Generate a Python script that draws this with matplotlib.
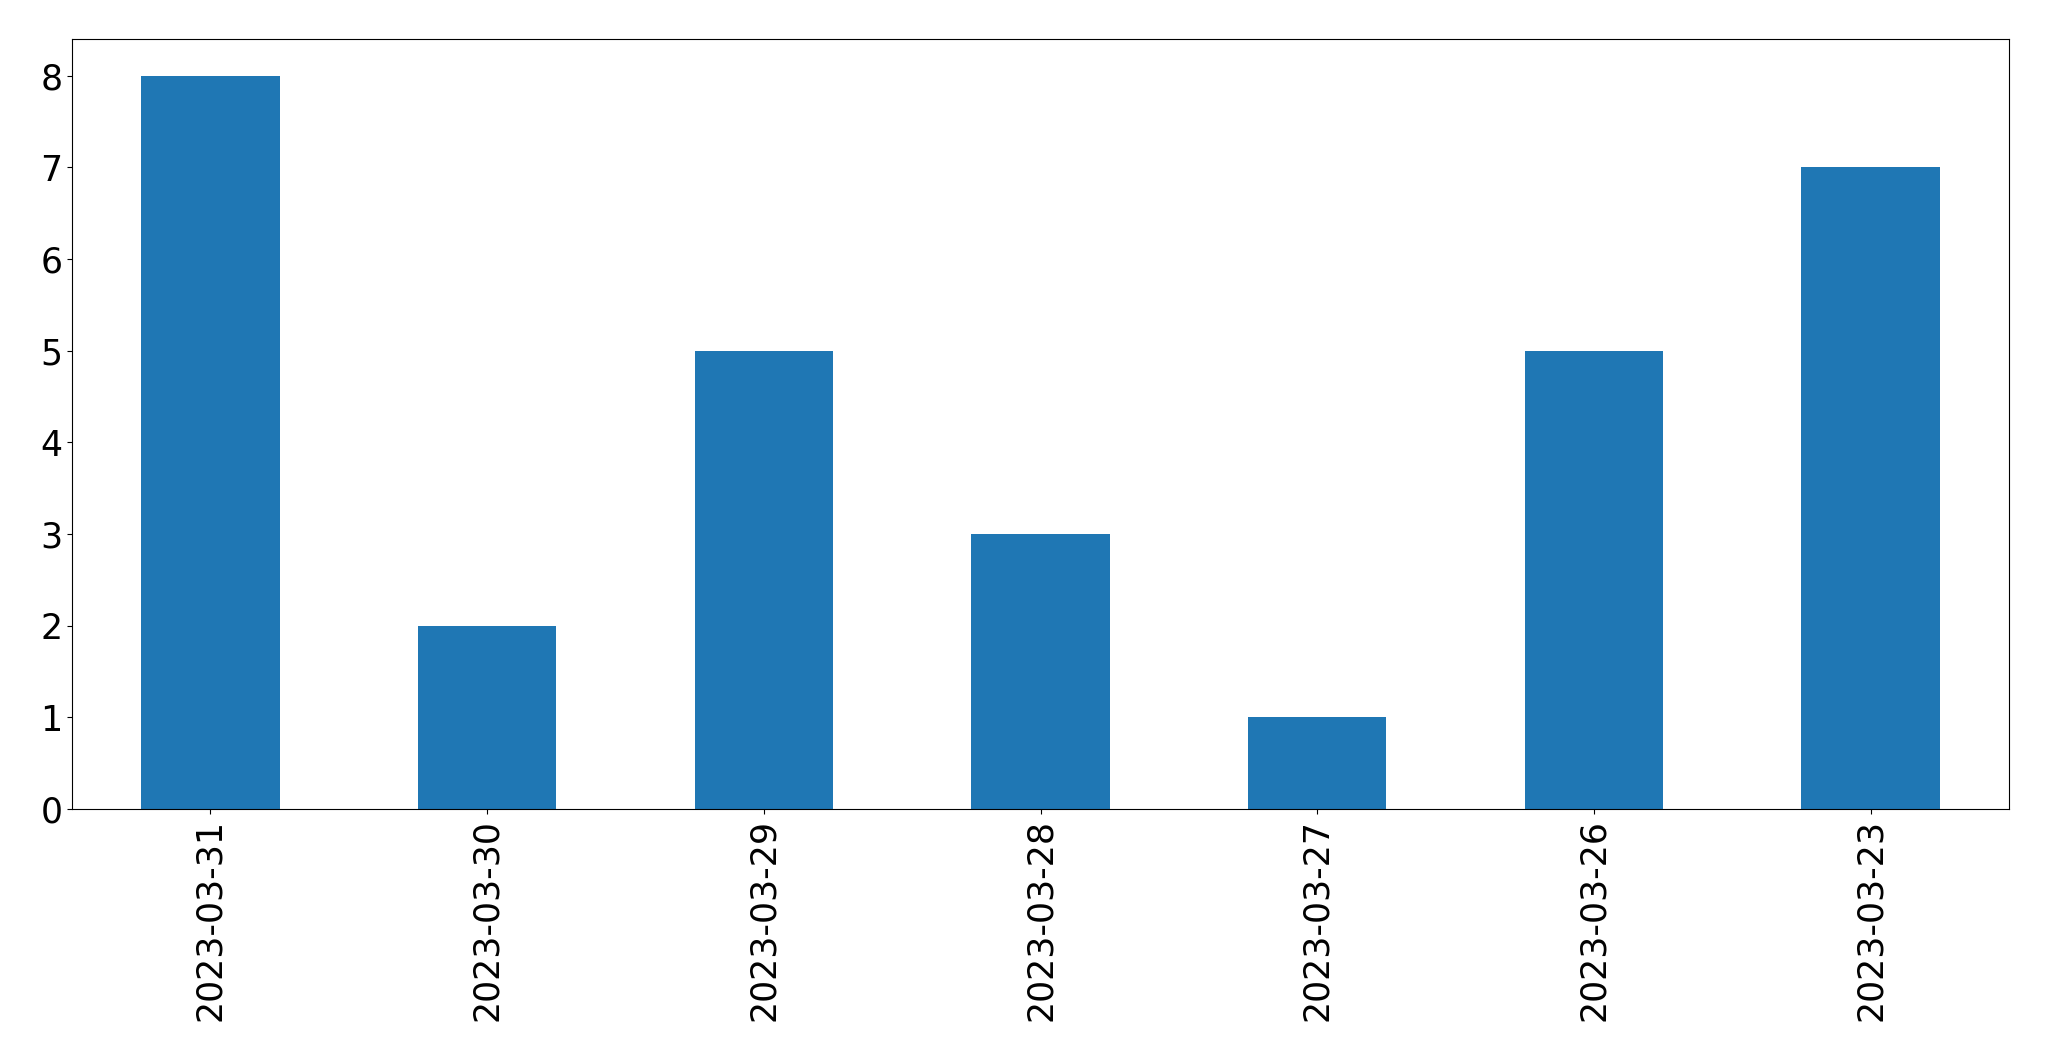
import matplotlib
matplotlib.use('Agg')
import matplotlib.pyplot as plt
import pandas as pd

dates = ["2023-03-31", "2023-03-30", "2023-03-29", "2023-03-28",
         "2023-03-27", "2023-03-26", "2023-03-23"]
counts = [8, 2, 5, 3, 1, 5, 7]

s = pd.Series(counts, index=dates)

fig = plt.figure(figsize=(20.49, 10.61), dpi=100)
ax = fig.add_axes([72 / 2049, 1 - 809 / 1061, (2009 - 72) / 2049, (809 - 39) / 1061])
s.plot(kind="bar", ax=ax, color="#1f77b4")
ax.tick_params(axis="both", labelsize=25)

fig.savefig("out.png", dpi=100)
